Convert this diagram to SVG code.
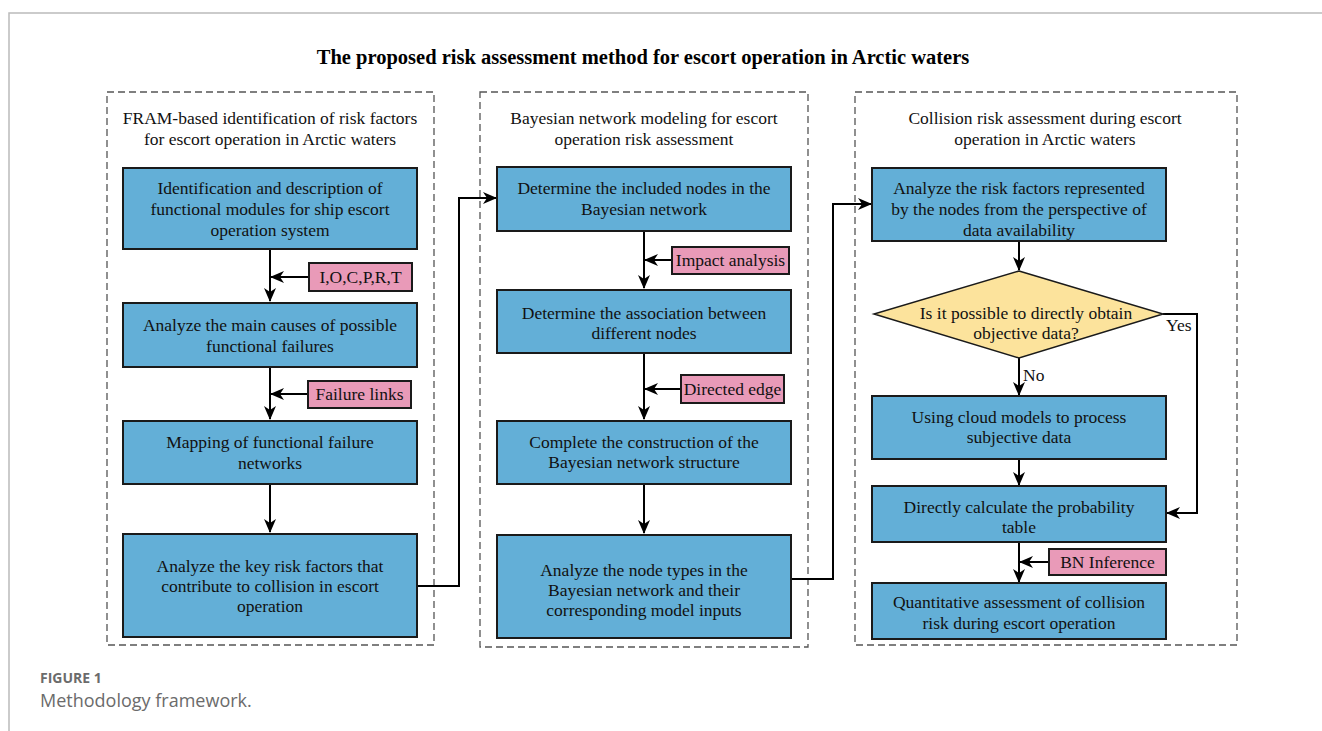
<svg xmlns="http://www.w3.org/2000/svg" width="1322" height="731" viewBox="0 0 1322 731">
<defs>
<marker id="arr" markerUnits="userSpaceOnUse" markerWidth="14" markerHeight="12" viewBox="0 0 14 12" refX="13" refY="6" orient="auto">
<path d="M0,0 L14,6 L0,12 L4,6 z" fill="#000"/>
</marker>
<style>
.t{font-family:"Liberation Serif","Times New Roman",serif;font-size:17.5px;fill:#111;text-anchor:middle}
.tl{font-family:"Liberation Serif","Times New Roman",serif;font-size:17.5px;fill:#111}
.n{fill:#63AFD7;stroke:#1a1a1a;stroke-width:2}
.p{fill:#E99AB8;stroke:#1a1a1a;stroke-width:2}
.d{fill:#FCE39C;stroke:#1a1a1a;stroke-width:1.5}
.sec{fill:none;stroke:#555;stroke-width:1.3;stroke-dasharray:7 4}
.c{fill:none;stroke:#000;stroke-width:2}
</style>
</defs>
<rect width="1322" height="731" fill="#fff"/>
<path d="M9,731 V13 H1322" fill="none" stroke="#bbb" stroke-width="1.5"/>
<text x="643" y="64" style="font-family:'Liberation Serif','Times New Roman',serif;font-size:20.5px;font-weight:bold;text-anchor:middle;fill:#000">The proposed risk assessment method for escort operation in Arctic waters</text>

<g id="section1">
<rect class="sec" x="107" y="92" width="327" height="553"/>
<text class="t" x="270" y="124">FRAM-based identification of risk factors</text>
<text class="t" x="270" y="145">for escort operation in Arctic waters</text>
</g>
<g id="section2">
<rect class="sec" x="480" y="92" width="328" height="555"/>
<text class="t" x="644" y="124">Bayesian network modeling for escort</text>
<text class="t" x="644" y="145">operation risk assessment</text>
</g>
<g id="section3">
<rect class="sec" x="855" y="92" width="382" height="553"/>
<text class="t" x="1045" y="124">Collision risk assessment during escort</text>
<text class="t" x="1045" y="145">operation in Arctic waters</text>
</g>

<g id="connectors">
<path class="c" d="M270,249 V301" marker-end="url(#arr)"/>
<path class="c" d="M309,277 H271" marker-end="url(#arr)"/>
<path class="c" d="M270,367 V419" marker-end="url(#arr)"/>
<path class="c" d="M308,394 H271" marker-end="url(#arr)"/>
<path class="c" d="M270,484 V532" marker-end="url(#arr)"/>
<path class="c" d="M417,586 H459 V198 H496" marker-end="url(#arr)"/>
<path class="c" d="M644,231 V288" marker-end="url(#arr)"/>
<path class="c" d="M672,260 H645" marker-end="url(#arr)"/>
<path class="c" d="M644,353 V419" marker-end="url(#arr)"/>
<path class="c" d="M681,389 H645" marker-end="url(#arr)"/>
<path class="c" d="M644,484 V533" marker-end="url(#arr)"/>
<path class="c" d="M791,579 H833 V204 H871" marker-end="url(#arr)"/>
<path class="c" d="M1019,241 V270" marker-end="url(#arr)"/>
<path class="c" d="M1019,358 V395" marker-end="url(#arr)"/>
<path class="c" d="M1163,314 H1197 V513 H1167" marker-end="url(#arr)"/>
<path class="c" d="M1019,459 V485" marker-end="url(#arr)"/>
<path class="c" d="M1019,542 V582" marker-end="url(#arr)"/>
<path class="c" d="M1049,562 H1020" marker-end="url(#arr)"/>
</g>

<g id="n1_1"><rect class="n" x="123" y="168" width="294" height="81"/>
<text class="t" x="270" y="194">Identification and description of</text>
<text class="t" x="270" y="215">functional modules for ship escort</text>
<text class="t" x="270" y="236">operation system</text></g>
<g id="p1_1"><rect class="p" x="309" y="263" width="103" height="28"/>
<text class="t" x="360.5" y="283">I,O,C,P,R,T</text></g>
<g id="n1_2"><rect class="n" x="123" y="303" width="294" height="64"/>
<text class="t" x="270" y="331">Analyze the main causes of possible</text>
<text class="t" x="270" y="352">functional failures</text></g>
<g id="p1_2"><rect class="p" x="308" y="381" width="103" height="27"/>
<text class="t" x="359.5" y="400">Failure links</text></g>
<g id="n1_3"><rect class="n" x="123" y="421" width="294" height="63"/>
<text class="t" x="270" y="448">Mapping of functional failure</text>
<text class="t" x="270" y="469">networks</text></g>
<g id="n1_4"><rect class="n" x="123" y="534" width="294" height="103"/>
<text class="t" x="270" y="572">Analyze the key risk factors that</text>
<text class="t" x="270" y="592">contribute to collision in escort</text>
<text class="t" x="270" y="612">operation</text></g>

<g id="n2_1"><rect class="n" x="497" y="167" width="294" height="64"/>
<text class="t" x="644" y="194">Determine the included nodes in the</text>
<text class="t" x="644" y="215">Bayesian network</text></g>
<g id="p2_1"><rect class="p" x="672" y="247" width="117" height="27"/>
<text class="t" x="730.5" y="266">Impact analysis</text></g>
<g id="n2_2"><rect class="n" x="497" y="290" width="294" height="63"/>
<text class="t" x="644" y="319">Determine the association between</text>
<text class="t" x="644" y="339">different nodes</text></g>
<g id="p2_2"><rect class="p" x="681" y="375" width="103" height="28"/>
<text class="t" x="732.5" y="395">Directed edge</text></g>
<g id="n2_3"><rect class="n" x="497" y="421" width="294" height="63"/>
<text class="t" x="644" y="448">Complete the construction of the</text>
<text class="t" x="644" y="468">Bayesian network structure</text></g>
<g id="n2_4"><rect class="n" x="497" y="535" width="294" height="103"/>
<text class="t" x="644" y="576">Analyze the node types in the</text>
<text class="t" x="644" y="596">Bayesian network and their</text>
<text class="t" x="644" y="616">corresponding model inputs</text></g>

<g id="n3_1"><rect class="n" x="872" y="168" width="294" height="73"/>
<text class="t" x="1019" y="194">Analyze the risk factors represented</text>
<text class="t" x="1019" y="215">by the nodes from the perspective of</text>
<text class="t" x="1019" y="236">data availability</text></g>
<g id="d3"><path class="d" d="M1019,271 L1163,314 L1019,358 L874,314 z"/>
<text class="t" x="1026" y="319">Is it possible to directly obtain</text>
<text class="t" x="1026" y="339">objective data?</text></g>
<text class="tl" x="1166" y="331">Yes</text>
<text class="tl" x="1023" y="381">No</text>
<g id="n3_2"><rect class="n" x="872" y="396" width="294" height="63"/>
<text class="t" x="1019" y="423">Using cloud models to process</text>
<text class="t" x="1019" y="443">subjective data</text></g>
<g id="n3_3"><rect class="n" x="872" y="486" width="294" height="56"/>
<text class="t" x="1019" y="513">Directly calculate the probability</text>
<text class="t" x="1019" y="533">table</text></g>
<g id="p3_1"><rect class="p" x="1049" y="549" width="117" height="26"/>
<text class="t" x="1107.5" y="568">BN Inference</text></g>
<g id="n3_4"><rect class="n" x="872" y="583" width="294" height="56"/>
<text class="t" x="1019" y="608">Quantitative assessment of collision</text>
<text class="t" x="1019" y="629">risk during escort operation</text></g>

<text x="40" y="683" style="font-family:'Open Sans','Noto Sans',sans-serif;font-size:14px;font-weight:bold;fill:#6b6b6b">FIGURE 1</text>
<text x="40" y="707" style="font-family:'Open Sans','Noto Sans',sans-serif;font-size:18px;fill:#6b6b6b">Methodology framework.</text>
</svg>
